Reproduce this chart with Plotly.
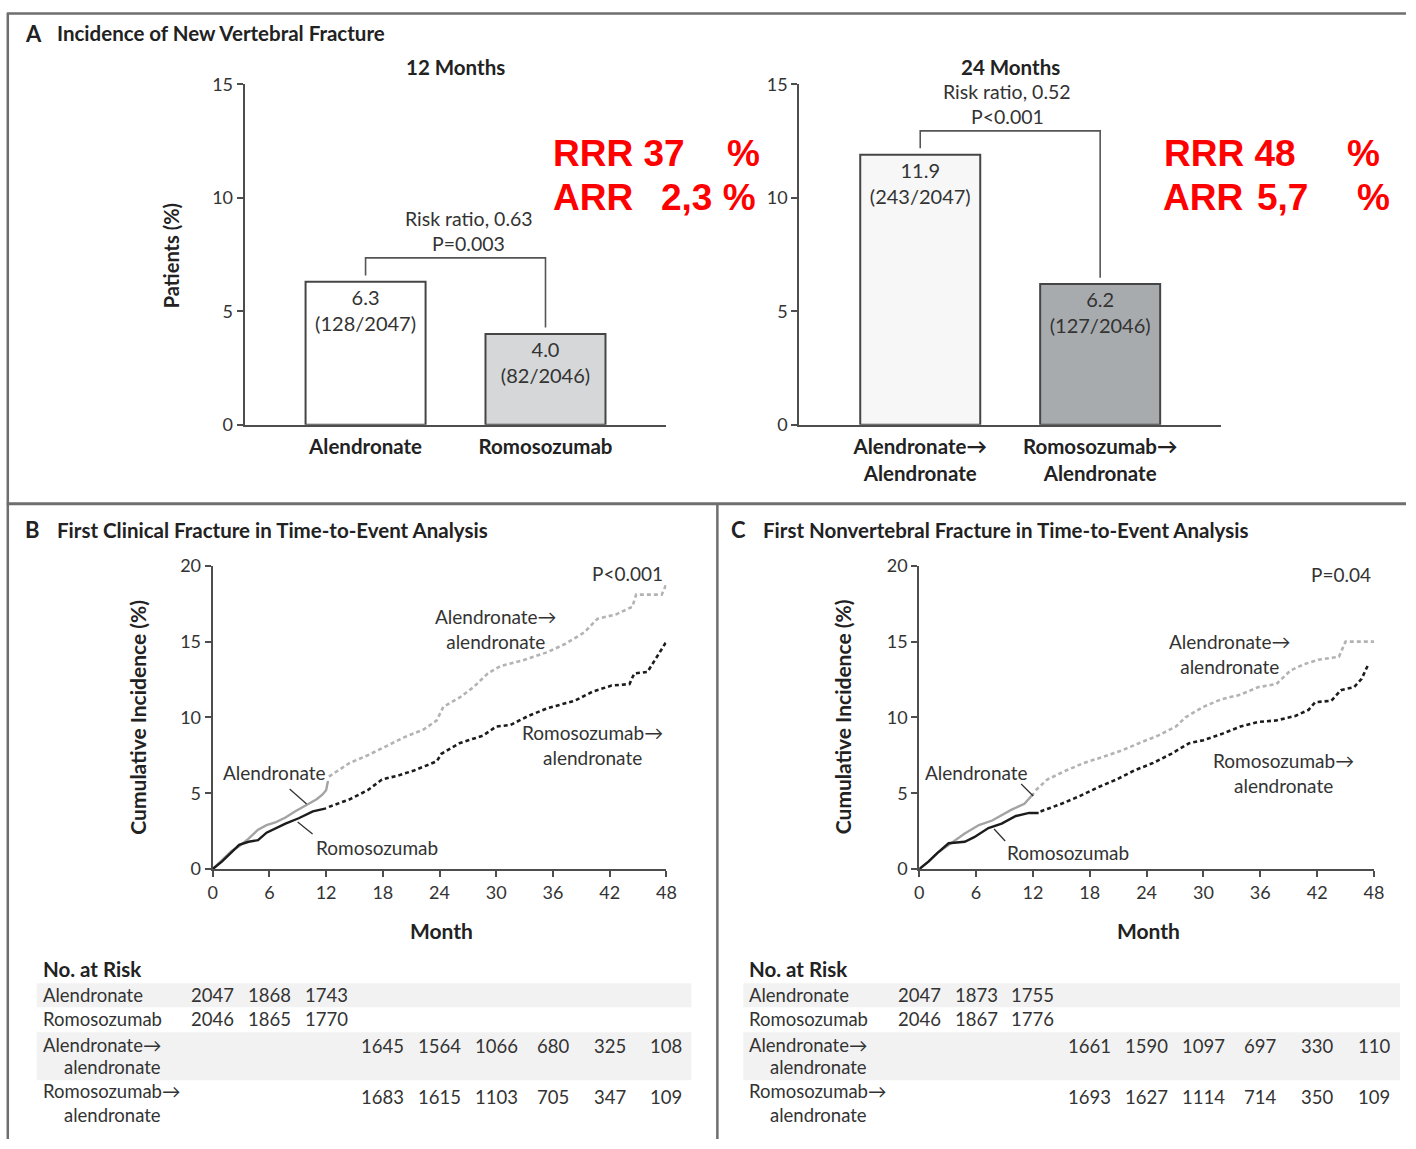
import plotly.graph_objects as go

W, H = 1416, 1149
FONT = "Lato, Liberation Sans, sans-serif"
TXT = "#333333"
AX = "#4d4d4d"

# ---------------- Panel A data ----------------
a12_labels = ["<b>Alendronate</b>", "<b>Romosozumab</b>"]
a12_values = [6.3, 4.0]
a12_counts = ["(128/2047)", "(82/2046)"]
a12_colors = ["#ffffff", "#d5d7d9"]

a24_labels = ["<b>Alendronate→<br>Alendronate</b>", "<b>Romosozumab→<br>Alendronate</b>"]
a24_values = [11.9, 6.2]
a24_counts = ["(243/2047)", "(127/2046)"]
a24_colors = ["#f7f7f7", "#a8abae"]

bar_ticks = [0, 5, 10, 15]

# ---------------- Panel B data (months, cumulative incidence %) ----------------
b_alen_x = [0, 1.0, 2.0, 2.8, 3.8, 4.8, 5.7, 6.7, 7.7, 8.7, 10.1, 11.0, 11.6, 12.0, 12.2]
b_alen_y = [0, 0.6, 1.2, 1.5, 2.0, 2.6, 2.9, 3.1, 3.4, 3.8, 4.3, 4.6, 4.9, 5.2, 5.8]
b_romo_x = [0, 1.0, 1.9, 2.8, 3.8, 4.8, 5.7, 6.7, 7.7, 9.1, 10.6, 12.0]
b_romo_y = [0, 0.5, 1.05, 1.6, 1.8, 1.9, 2.4, 2.7, 3.0, 3.35, 3.8, 4.0]
b_aa_x = [12.3, 14.5, 16.4, 18.4, 20.3, 22.3, 23.7, 24.4, 26.1, 27.6, 29.1, 30.5, 33.0, 35.4,
          37.3, 39.3, 40.7, 42.7, 44.4, 44.8, 47.5, 48.0]
b_aa_y = [6.1, 7.0, 7.5, 8.1, 8.7, 9.2, 9.8, 10.7, 11.3, 12.0, 12.9, 13.4, 13.8, 14.3,
          14.85, 15.6, 16.5, 16.8, 17.3, 18.1, 18.1, 18.8]
b_ra_x = [12.3, 14.5, 16.4, 17.9, 19.8, 21.3, 23.7, 24.2, 26.1, 28.6, 30.0, 31.5, 33.4, 35.4,
          38.3, 40.2, 42.2, 44.1, 44.6, 46.0, 47.0, 48.0]
b_ra_y = [4.1, 4.6, 5.2, 5.9, 6.2, 6.5, 7.1, 7.6, 8.3, 8.8, 9.4, 9.5, 10.1, 10.6,
          11.1, 11.7, 12.1, 12.2, 12.9, 13.0, 14.0, 15.0]

# ---------------- Panel C data ----------------
c_alen_x = [0, 1.0, 1.9, 3.4, 4.8, 6.3, 7.7, 9.7, 11.1, 12.1]
c_alen_y = [0, 0.5, 1.05, 1.7, 2.35, 2.9, 3.2, 3.9, 4.3, 5.0]
c_romo_x = [0, 1.0, 1.9, 3.1, 4.8, 5.8, 7.3, 8.7, 10.2, 11.6, 12.6]
c_romo_y = [0, 0.5, 1.05, 1.7, 1.8, 2.1, 2.7, 3.0, 3.5, 3.7, 3.7]
c_aa_x = [12.3, 13.5, 15.5, 17.4, 19.4, 21.3, 23.2, 25.2, 27.1, 28.1, 30.0, 31.9, 33.9, 35.8,
          37.7, 39.2, 40.6, 42.1, 44.3, 45.0, 48.0]
c_aa_y = [5.2, 5.9, 6.5, 7.0, 7.4, 7.8, 8.3, 8.8, 9.4, 10.0, 10.7, 11.2, 11.5, 12.0,
          12.2, 13.1, 13.5, 13.8, 14.0, 15.0, 15.0]
c_ra_x = [12.8, 15.0, 16.9, 18.9, 20.8, 22.7, 24.7, 26.6, 28.5, 30.0, 31.9, 33.9, 35.8, 37.7,
          39.7, 41.1, 41.8, 43.5, 44.5, 45.9, 46.7, 47.4]
c_ra_y = [3.8, 4.3, 4.8, 5.4, 5.9, 6.5, 7.0, 7.6, 8.3, 8.5, 8.9, 9.4, 9.7, 9.8,
          10.1, 10.5, 11.0, 11.1, 11.8, 12.0, 12.55, 13.5]

km_xticks = [0, 6, 12, 18, 24, 30, 36, 42, 48]
km_yticks = [0, 5, 10, 15, 20]

# ---------------- Number at risk ----------------
risk_early_months = [0, 6, 12]
risk_late_months = [18, 24, 30, 36, 42, 48]
b_risk_alen = [2047, 1868, 1743]
b_risk_romo = [2046, 1865, 1770]
b_risk_aa = [1645, 1564, 1066, 680, 325, 108]
b_risk_ra = [1683, 1615, 1103, 705, 347, 109]
c_risk_alen = [2047, 1873, 1755]
c_risk_romo = [2046, 1867, 1776]
c_risk_aa = [1661, 1590, 1097, 697, 330, 110]
c_risk_ra = [1693, 1627, 1114, 714, 350, 109]

# The photographed page places the figure slightly inset/scaled; compensate so that
# layout positions land where the reference has them (values in reference pixels).
OFF_X, S_X = 4.2, 0.99
OFF_Y, S_Y = 11.7, 0.98


def PX(x):
    return ((x - OFF_X) / S_X) / W


def PY(y):
    f = (y - OFF_Y) / S_Y
    return 1 - f / H


def clamp01(v):
    return max(0.0, min(1.0, v))


fig = go.Figure()

# ---- bars ----
for vals, counts, cols, xa, ya in [
    (a12_values, a12_counts, a12_colors, "x", "y"),
    (a24_values, a24_counts, a24_colors, "x2", "y2"),
]:
    fig.add_trace(go.Bar(
        x=[0, 1], y=vals, width=0.667, xaxis=xa, yaxis=ya,
        marker=dict(color=cols, line=dict(color="#454545", width=2)),
        text=[f"{v}<br>{c}" for v, c in zip(vals, counts)],
        textposition="inside", insidetextanchor="end", textangle=0,
        constraintext="none",
        textfont=dict(family=FONT, size=20, color=TXT),
        hoverinfo="skip", showlegend=False,
    ))
    gap, rise = 0.28, 1.05
    top = max(vals) + rise
    fig.add_trace(go.Scatter(
        x=[0, 0, 1, 1], y=[vals[0] + gap, top, top, vals[1] + gap],
        mode="lines", line=dict(color="#555555", width=1.6),
        xaxis=xa, yaxis=ya, hoverinfo="skip", showlegend=False,
    ))

# ---- KM curves ----
GRAY_S = "#a3a3a3"
GRAY_D = "#b3b3b3"
BLACK = "#1c1c1c"
for xa, ya, ax_, ay_, rx_, ry_, aax, aay, rax, ray in [
    ("x3", "y3", b_alen_x, b_alen_y, b_romo_x, b_romo_y, b_aa_x, b_aa_y, b_ra_x, b_ra_y),
    ("x4", "y4", c_alen_x, c_alen_y, c_romo_x, c_romo_y, c_aa_x, c_aa_y, c_ra_x, c_ra_y),
]:
    fig.add_trace(go.Scatter(x=aax, y=aay, mode="lines", xaxis=xa, yaxis=ya,
                             line=dict(color=GRAY_D, width=2.6, dash="4px,3px"),
                             hoverinfo="skip", showlegend=False))
    fig.add_trace(go.Scatter(x=rax, y=ray, mode="lines", xaxis=xa, yaxis=ya,
                             line=dict(color=BLACK, width=2.6, dash="4px,3px"),
                             hoverinfo="skip", showlegend=False))
    fig.add_trace(go.Scatter(x=ax_, y=ay_, mode="lines", xaxis=xa, yaxis=ya,
                             line=dict(color=GRAY_S, width=2.4),
                             hoverinfo="skip", showlegend=False))
    fig.add_trace(go.Scatter(x=rx_, y=ry_, mode="lines", xaxis=xa, yaxis=ya,
                             line=dict(color=BLACK, width=2.4),
                             hoverinfo="skip", showlegend=False))

# ---- axes ----
common_line = dict(showline=True, linecolor=AX, linewidth=2, showgrid=False, zeroline=False)
bar_x = dict(range=[-0.672, 1.672], tickvals=[0, 1], ticks="",
             tickfont=dict(family=FONT, size=20.5, color="#222222"), ticklabelstandoff=3, **common_line)
bar_y = dict(range=[0, 15], tickvals=bar_ticks, ticks="outside", ticklen=6, tickwidth=1.5,
             tickcolor=AX, tickfont=dict(family=FONT, size=18, color=TXT), **common_line)
km_x = dict(range=[0, 48], tickvals=km_xticks, ticks="outside", ticklen=6, tickwidth=1.5,
            tickcolor=AX, tickfont=dict(family=FONT, size=18, color=TXT), **common_line)
km_y = dict(range=[0, 20], tickvals=km_yticks, ticks="outside", ticklen=6, tickwidth=1.5,
            tickcolor=AX, tickfont=dict(family=FONT, size=18, color=TXT), **common_line)

fig.update_layout(
    width=W, height=H, autosize=False,
    margin=dict(l=0, r=0, t=0, b=0),
    paper_bgcolor="white", plot_bgcolor="rgba(0,0,0,0)",
    font=dict(family=FONT, color=TXT),
    showlegend=False,
    xaxis=dict(domain=[PX(244), PX(666)], anchor="y", ticktext=a12_labels, **bar_x),
    yaxis=dict(domain=[PY(424), PY(84)], anchor="x", **bar_y),
    xaxis2=dict(domain=[PX(799), PX(1221)], anchor="y2", ticktext=a24_labels, **bar_x),
    yaxis2=dict(domain=[PY(424), PY(84)], anchor="x2", **bar_y),
    xaxis3=dict(domain=[PX(212), PX(666)], anchor="y3", **km_x),
    yaxis3=dict(domain=[PY(868), PY(565)], anchor="x3", **km_y),
    xaxis4=dict(domain=[PX(919), PX(1374)], anchor="y4", **km_x),
    yaxis4=dict(domain=[PY(868), PY(565)], anchor="x4", **km_y),
)

# ---- frame / separators ----
FR = "#6e6e6e"
top_y = min(PY(6), 1 - 1.5 / H)
shapes = [
    dict(type="line", xref="paper", yref="paper", x0=clamp01(PX(6)), x1=1, y0=top_y, y1=top_y,
         line=dict(color=FR, width=2.5)),
    dict(type="line", xref="paper", yref="paper", x0=PX(7), x1=PX(7), y0=top_y, y1=0,
         line=dict(color=FR, width=2.5)),
    dict(type="line", xref="paper", yref="paper", x0=clamp01(PX(6)), x1=1, y0=PY(503), y1=PY(503),
         line=dict(color=FR, width=3)),
    dict(type="line", xref="paper", yref="paper", x0=PX(717), x1=PX(717), y0=PY(503), y1=0,
         line=dict(color=FR, width=2.5)),
]
# risk table shading bands
for x0, x1 in [(36, 691), (743, 1400)]:
    for y0, y1 in [(982, 1006), (1031, 1079)]:
        shapes.append(dict(type="rect", xref="paper", yref="paper", layer="below",
                           x0=PX(x0), x1=PX(x1), y0=PY(y1), y1=PY(y0),
                           fillcolor="#f2f2f2", line=dict(width=0)))
# pointer lines (label -> curve)
for xr, yr, x0, y0, x1, y1 in [
    ("x3", "y3", 8.14, 5.28, 9.94, 4.29),
    ("x3", "y3", 8.99, 3.10, 10.57, 2.31),
    ("x4", "y4", 10.76, 5.61, 12.03, 4.82),
    ("x4", "y4", 7.90, 2.64, 9.07, 1.85),
]:
    shapes.append(dict(type="line", xref=xr, yref=yr, x0=x0, y0=y0, x1=x1, y1=y1,
                       line=dict(color="#333333", width=1.3)))
fig.update_layout(shapes=shapes)

ann = []


def A(text, x, y, size=18, xanchor="center", yanchor="middle", xref="paper", yref="paper",
      color=TXT, family=FONT, angle=0):
    ann.append(dict(text=text, x=x, y=y, xref=xref, yref=yref, xanchor=xanchor, yanchor=yanchor,
                    showarrow=False, textangle=angle,
                    font=dict(family=family, size=size, color=color)))


# Panel titles
TS = 20.5
A("<b>A</b>", PX(22), PY(33), size=22, xanchor="left", color="#222222")
A("<b>Incidence of New Vertebral Fracture</b>", PX(54), PY(33), size=TS, xanchor="left", color="#222222")
A("<b>B</b>", PX(22), PY(529), size=22, xanchor="left", color="#222222")
A("<b>First Clinical Fracture in Time-to-Event Analysis</b>", PX(54), PY(529), size=TS,
  xanchor="left", color="#222222")
A("<b>C</b>", PX(729), PY(529), size=22, xanchor="left", color="#222222")
A("<b>First Nonvertebral Fracture in Time-to-Event Analysis</b>", PX(761), PY(529), size=TS,
  xanchor="left", color="#222222")

# Panel A texts
A("<b>12 Months</b>", PX(455), PY(67), size=20.5, color="#222222")
A("Risk ratio, 0.63", PX(468), PY(218), size=19.5)
A("P=0.003", PX(468), PY(243), size=19.5)
A("<b>24 Months</b>", PX(1010), PY(67), size=20.5, color="#222222")
A("Risk ratio, 0.52", PX(1007), PY(91), size=19.5)
A("P<0.001", PX(1007), PY(116), size=19.5)
A("<b>Patients (%)</b>", PX(170), PY(255), size=20, angle=-90, color="#222222")

# Red RRR / ARR overlays
RED = "#ff0000"
RF = "Liberation Sans, Arial, sans-serif"
A("<b>RRR 37</b>", PX(551), PY(153), size=37, xanchor="left", color=RED, family=RF)
A("<b>%</b>", PX(725), PY(153), size=37, xanchor="left", color=RED, family=RF)
A("<b>ARR</b>", PX(551), PY(197), size=37, xanchor="left", color=RED, family=RF)
A("<b>2,3 %</b>", PX(758), PY(197), size=37, xanchor="right", color=RED, family=RF)
A("<b>RRR 48</b>", PX(1162), PY(153), size=37, xanchor="left", color=RED, family=RF)
A("<b>%</b>", PX(1345), PY(153), size=37, xanchor="left", color=RED, family=RF)
A("<b>ARR</b>", PX(1161), PY(197), size=37, xanchor="left", color=RED, family=RF)
A("<b>5,7</b>", PX(1255), PY(197), size=37, xanchor="left", color=RED, family=RF)
A("<b>%</b>", PX(1355), PY(197), size=37, xanchor="left", color=RED, family=RF)

# KM axis titles
for xc, yc in [(441, 137), (1148, 843)]:
    A("<b>Month</b>", PX(xc), PY(929), size=21, color="#222222")
    A("<b>Cumulative Incidence (%)</b>", PX(yc), PY(716), size=21, angle=-90, color="#222222")

LS = 19
# KM labels panel B
A("P<0.001", 47.9, 19.47, xref="x3", yref="y3", xanchor="right", size=LS)
A("Alendronate→<br>alendronate", 30.0, 15.84, xref="x3", yref="y3", size=LS)
A("Romosozumab→<br>alendronate", 40.2, 8.18, xref="x3", yref="y3", size=LS)
A("Alendronate", 0.85, 6.4, xref="x3", yref="y3", xanchor="left", size=LS)
A("Romosozumab", 10.7, 1.39, xref="x3", yref="y3", xanchor="left", size=LS)
# KM labels panel C
A("P=0.04", 47.9, 19.4, xref="x4", yref="y4", xanchor="right", size=LS)
A("Alendronate→<br>alendronate", 32.8, 14.19, xref="x4", yref="y4", size=LS)
A("Romosozumab→<br>alendronate", 38.4, 6.34, xref="x4", yref="y4", size=LS)
A("Alendronate", 0.42, 6.4, xref="x4", yref="y4", xanchor="left", size=LS)
A("Romosozumab", 9.07, 1.06, xref="x4", yref="y4", xanchor="left", size=LS)

# Number-at-risk tables
RS = 18.5
for xl, xr, e_alen, e_romo, l_aa, l_ra in [
    (40, "x3", b_risk_alen, b_risk_romo, b_risk_aa, b_risk_ra),
    (747, "x4", c_risk_alen, c_risk_romo, c_risk_aa, c_risk_ra),
]:
    A("<b>No. at Risk</b>", PX(xl), PY(968), size=20.5, xanchor="left", color="#222222")
    A("Alendronate", PX(xl), PY(994), size=RS, xanchor="left")
    A("Romosozumab", PX(xl), PY(1018), size=RS, xanchor="left")
    A("Alendronate→", PX(xl), PY(1044), size=RS, xanchor="left")
    A("alendronate", PX(xl + 21), PY(1066), size=RS, xanchor="left")
    A("Romosozumab→", PX(xl), PY(1090), size=RS, xanchor="left")
    A("alendronate", PX(xl + 21), PY(1114), size=RS, xanchor="left")
    for m, v in zip(risk_early_months, e_alen):
        A(str(v), m, PY(994), size=RS, xref=xr)
    for m, v in zip(risk_early_months, e_romo):
        A(str(v), m, PY(1018), size=RS, xref=xr)
    for m, v in zip(risk_late_months, l_aa):
        A(str(v), m, PY(1045), size=RS, xref=xr)
    for m, v in zip(risk_late_months, l_ra):
        A(str(v), m, PY(1096), size=RS, xref=xr)

fig.update_layout(annotations=ann)

POST = (
    "var h=document.documentElement,b=document.body;"
    "h.style.margin='0';h.style.padding='0';h.style.overflow='hidden';"
    "b.style.margin='0';b.style.padding='0';b.style.overflow='hidden';"
)
fig.write_html("out.html", config={"displayModeBar": False}, post_script=POST)
